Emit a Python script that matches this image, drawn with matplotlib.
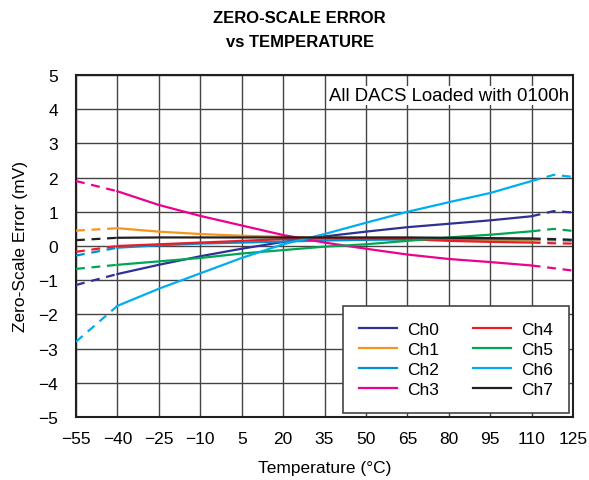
import numpy as np
import matplotlib.pyplot as plt

plt.rcParams['font.family'] = ['Liberation Sans', 'DejaVu Sans']

temps = [-55, -40, -25, -10, 5, 20, 35, 50, 65, 80, 95, 110, 118, 125]

ch0 = [-1.14, -0.82, -0.55, -0.30, -0.08, 0.12, 0.28, 0.42, 0.55, 0.65, 0.75, 0.87, 1.02, 0.98]
ch1 = [0.45, 0.52, 0.42, 0.35, 0.30, 0.27, 0.24, 0.22, 0.20, 0.18, 0.17, 0.16, 0.16, 0.15]
ch2 = [-0.28, -0.05, 0.02, 0.07, 0.10, 0.13, 0.16, 0.18, 0.19, 0.20, 0.20, 0.20, 0.19, 0.17]
ch3 = [1.90, 1.60, 1.20, 0.88, 0.60, 0.32, 0.10, -0.08, -0.25, -0.38, -0.47, -0.57, -0.65, -0.72]
ch4 = [-0.17, 0.00, 0.05, 0.10, 0.15, 0.20, 0.22, 0.22, 0.20, 0.15, 0.12, 0.10, 0.08, 0.07]
ch5 = [-0.67, -0.55, -0.45, -0.35, -0.22, -0.12, -0.02, 0.05, 0.15, 0.25, 0.33, 0.43, 0.50, 0.44]
ch6 = [-2.80, -1.75, -1.25, -0.80, -0.35, 0.05, 0.35, 0.68, 1.00, 1.28, 1.55, 1.90, 2.08, 2.02]
ch7 = [0.17, 0.24, 0.25, 0.25, 0.25, 0.25, 0.25, 0.25, 0.25, 0.24, 0.23, 0.22, 0.20, 0.18]

names = ['Ch0', 'Ch1', 'Ch2', 'Ch3', 'Ch4', 'Ch5', 'Ch6', 'Ch7']
series = [ch0, ch1, ch2, ch3, ch4, ch5, ch6, ch7]
colors = ['#2e3192', '#f7941d', '#0091d5', '#ec008c', '#ed1c24', '#00a651', '#00aeef', '#231f20']

xticks = [-55, -40, -25, -10, 5, 20, 35, 50, 65, 80, 95, 110, 125]

fig = plt.figure(figsize=(5.89, 4.81), dpi=100)
ax = fig.add_axes([0.129, 0.131, 0.844, 0.711])

t = np.array(temps)
for vals, name, c in zip(series, names, colors):
    v = np.array(vals)
    mid = (t >= -40) & (t <= 110)
    ax.plot(t[mid], v[mid], color=c, lw=1.6, label=name, zorder=3)
    lo = t <= -40
    hi = t >= 110
    ax.plot(t[lo], v[lo], color=c, lw=1.6, ls=(0, (4, 3)), zorder=3)
    ax.plot(t[hi], v[hi], color=c, lw=1.6, ls=(0, (4, 3)), zorder=3)

ax.set_xlim(-55, 125)
ax.set_ylim(-5, 5)
ax.set_xticks(xticks)
ax.set_yticks(range(-5, 6))
ax.tick_params(length=0, labelsize=12.5)
ax.tick_params(axis='x', pad=10)
ax.tick_params(axis='y', pad=13)
ax.grid(True, color='#444444', lw=1.0)
ax.set_axisbelow(True)
for s in ax.spines.values():
    s.set_linewidth(1.5)
    s.set_color('#231f20')

ax.set_xlabel('Temperature (°C)', fontsize=12.5, labelpad=10)
ax.set_ylabel('Zero-Scale Error (mV)', fontsize=12.5, labelpad=7)

fig.text(0.509, 0.937, 'ZERO-SCALE ERROR\nvs TEMPERATURE', ha='center', va='center',
         fontsize=12, fontweight='bold', linespacing=1.7)

ax.text(0.992, 0.965, 'All DACS Loaded with 0100h', transform=ax.transAxes,
        ha='right', va='top', fontsize=13.4,
        bbox=dict(facecolor='white', edgecolor='none', pad=1))

leg = ax.legend(loc='lower right', ncol=2, fontsize=12.5, frameon=True, fancybox=False,
                edgecolor='#444444', framealpha=1, handlelength=2.2, columnspacing=1.9,
                borderaxespad=0.25, labelspacing=0.28, handletextpad=0.6, borderpad=0.9)
leg.get_frame().set_linewidth(1.2)

fig.savefig('out.png', dpi=100)
